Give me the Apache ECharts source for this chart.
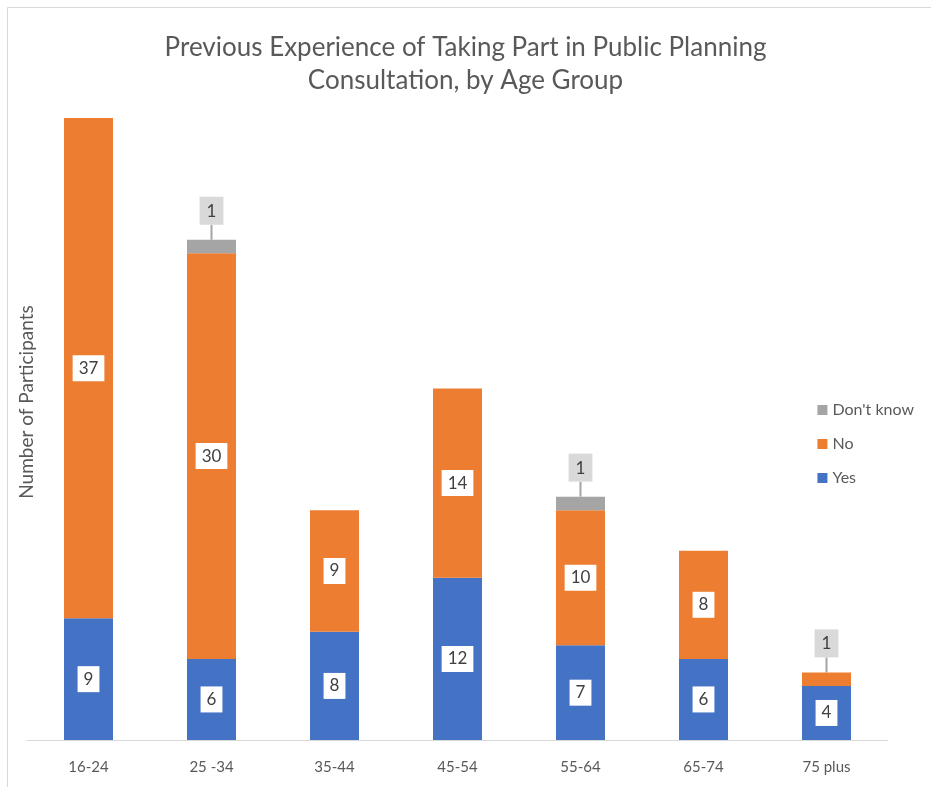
<!DOCTYPE html>
<html>
<head>
<meta charset="utf-8">
<style>
  html, body { margin: 0; padding: 0; background: #ffffff; }
  #chart { width: 931px; height: 787px; }
</style>
<script src="https://cdn.jsdelivr.net/npm/echarts@6/dist/echarts.min.js"></script>
</head>
<body>
<div id="chart"></div>
<script>
// Age groups along the x axis
const ageGroups = ['16-24', '25 -34', '35-44', '45-54', '55-64', '65-74', '75 plus'];
// Participants per answer, stacked bottom to top
const yesCounts = [9, 6, 8, 12, 7, 6, 4];
const noCounts = [37, 30, 9, 14, 10, 8, 1];
const dontKnowCounts = [0, 1, 0, 0, 1, 0, 0];

const FONT = 'Lato, "Open Sans", sans-serif';
const TEXT = '#595959';
const CALLOUT_GAP = 15;

// Boxed value label in the middle of a segment
const boxLabel = {
  show: true,
  position: 'inside',
  color: '#404040',
  fontFamily: FONT,
  fontSize: 17,
  backgroundColor: '#ffffff',
  padding: [5, 6, 4, 6]
};

// Grey callout label above the top of a stack
const calloutLabel = {
  show: true,
  position: 'top',
  distance: CALLOUT_GAP,
  color: '#404040',
  fontFamily: FONT,
  fontSize: 17,
  backgroundColor: '#d9d9d9',
  padding: [6, 7, 5, 7]
};

const lastIndex = ageGroups.length - 1;
// the thin top segment of the last group carries a callout instead of a box
const noData = noCounts.map((v, i) =>
  i === lastIndex ? { value: v, label: calloutLabel } : v
);
const dontKnowData = dontKnowCounts.map(v =>
  v > 0 ? { value: v, label: calloutLabel } : { value: v, label: { show: false } }
);

// Stack tops that carry a callout, for the leader lines
const calloutTops = [];
ageGroups.forEach((g, i) => {
  if (dontKnowCounts[i] > 0 || i === lastIndex) {
    calloutTops.push([i, yesCounts[i] + noCounts[i] + dontKnowCounts[i]]);
  }
});

const chart = echarts.init(document.getElementById('chart'), null, { renderer: 'canvas' });

chart.setOption({
  animation: false,
  backgroundColor: '#ffffff',
  title: {
    text: 'Previous Experience of Taking Part in Public Planning\nConsultation, by Age Group',
    left: 'center',
    top: 26,
    textStyle: {
      fontFamily: FONT,
      fontWeight: 'normal',
      fontSize: 26,
      color: TEXT,
      lineHeight: 33
    }
  },
  legend: {
    orient: 'vertical',
    right: 12,
    top: 397,
    itemWidth: 10,
    itemHeight: 10,
    itemGap: 18,
    icon: 'rect',
    data: ["Don't know", 'No', 'Yes'],
    textStyle: { fontFamily: FONT, fontSize: 16, color: TEXT }
  },
  grid: { left: 27, right: 43, top: 64, bottom: 47, containLabel: false },
  xAxis: {
    type: 'category',
    data: ageGroups,
    axisLine: { lineStyle: { color: '#d9d9d9', width: 1 } },
    axisTick: { show: false },
    axisLabel: {
      margin: 20,
      fontFamily: FONT,
      fontSize: 15,
      color: TEXT
    }
  },
  yAxis: {
    type: 'value',
    min: 0,
    max: 50,
    interval: 10,
    name: 'Number of Participants',
    nameLocation: 'middle',
    nameGap: -9,
    nameRotate: 90,
    nameTextStyle: { fontFamily: FONT, fontSize: 19, color: TEXT },
    axisLine: { show: false },
    axisTick: { show: false },
    axisLabel: { show: false },
    splitLine: { show: false }
  },
  series: [
    {
      name: 'Yes',
      type: 'bar',
      stack: 'total',
      barWidth: 49,
      data: yesCounts,
      itemStyle: { color: '#4472c4' },
      label: boxLabel
    },
    {
      name: 'No',
      type: 'bar',
      stack: 'total',
      barWidth: 49,
      data: noData,
      itemStyle: { color: '#ed7d31' },
      label: boxLabel
    },
    {
      name: "Don't know",
      type: 'bar',
      stack: 'total',
      barWidth: 49,
      data: dontKnowData,
      itemStyle: { color: '#a5a5a5' }
    },
    {
      // leader lines joining each callout to its stack top
      type: 'custom',
      silent: true,
      z: 1,
      data: calloutTops,
      renderItem: (params, api) => {
        const p = api.coord([api.value(0), api.value(1)]);
        return {
          type: 'line',
          shape: { x1: p[0], y1: p[1], x2: p[0], y2: p[1] - CALLOUT_GAP },
          style: { stroke: '#a5a5a5', lineWidth: 2 }
        };
      }
    }
  ],
  graphic: [
    {
      type: 'rect',
      silent: true,
      shape: { x: 7.5, y: 7.5, width: 940, height: 800 },
      style: { fill: 'none', stroke: '#d9d9d9', lineWidth: 1 }
    }
  ]
});
</script>
</body>
</html>
